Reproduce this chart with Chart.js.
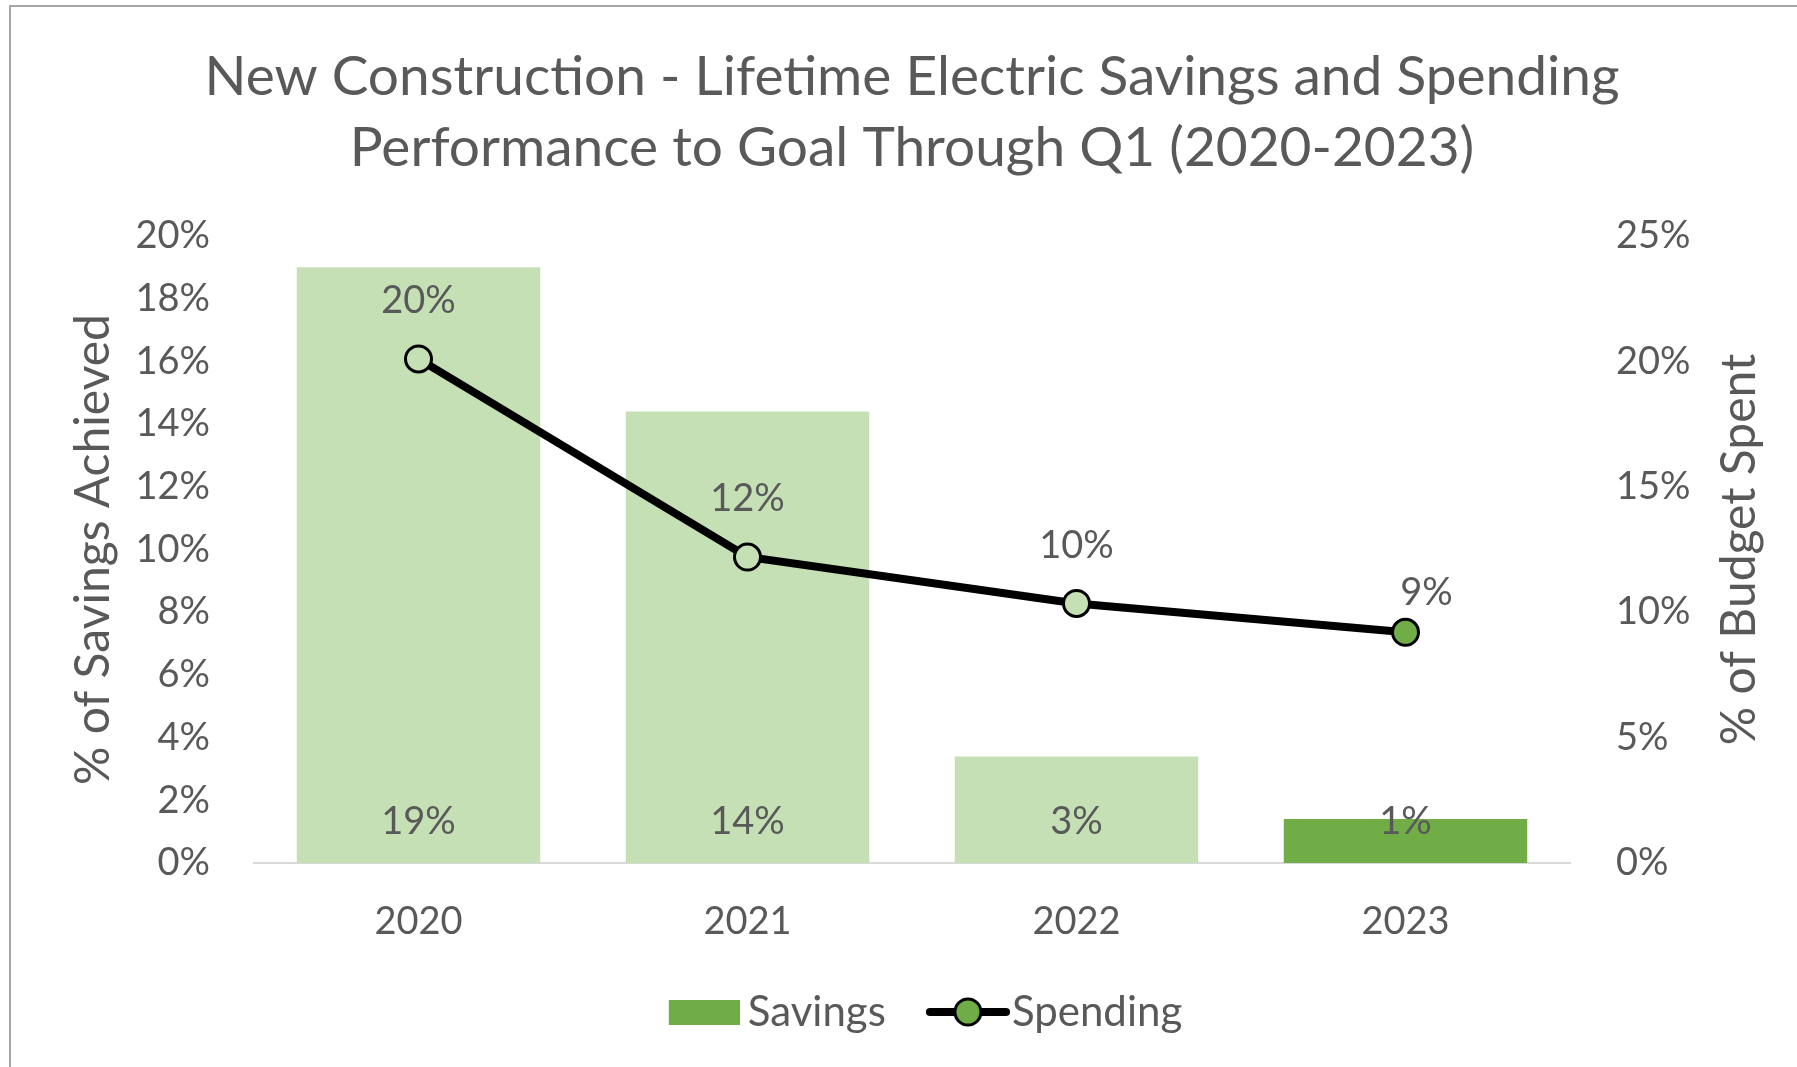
<!DOCTYPE html>
<html lang="en">
<head>
    <meta charset="UTF-8">
    <title>New Construction - Lifetime Electric Savings and Spending</title>
    <script src="https://cdn.jsdelivr.net/npm/chart.js"></script>
    <style>
        body {
            margin: 0;
            background: #ffffff;
        }
        .frame {
            position: absolute;
            left: 9px;
            top: 5px;
            width: 1800px;
            height: 1070px;
            border-left: 2px solid #a6a6a6;
            border-top: 2px solid #a6a6a6;
        }
        canvas {
            position: absolute;
            left: 0;
            top: 0;
        }
    </style>
</head>
<body>
    <div class="frame"></div>
    <canvas id="chart" width="1797" height="1067"></canvas>
    <script>
        // Data
        const years = ['2020', '2021', '2022', '2023'];
        const savings = [0.190, 0.144, 0.034, 0.014];
        const spending = [0.201, 0.122, 0.1035, 0.092];

        const titleLines = ['New Construction - Lifetime Electric Savings and Spending',
                            'Performance to Goal Through Q1 (2020-2023)'];

        const light = '#c5e0b4';
        const dark = '#70ad47';
        const textColor = '#595959';
        const fontFamily = 'Lato, "Open Sans", sans-serif';

        // label nudges for the spending labels (dx, dy) in px
        const spendLabelShift = [[0, -58], [0, -58], [0, -58], [21, -40]];

        function pct(v) {
            return Math.round(v * 100) + '%';
        }

        // legend icons (drawn off-centre inside a wider canvas so the gaps match)
        function makeSwatch() {
            const c = document.createElement('canvas');
            c.width = 111; c.height = 25;
            const g = c.getContext('2d');
            g.fillStyle = dark;
            g.fillRect(40, 0, 71, 25);
            return c;
        }
        function makeLineIcon() {
            const c = document.createElement('canvas');
            c.width = 123; c.height = 34;
            const g = c.getContext('2d');
            g.strokeStyle = '#000';
            g.lineWidth = 8;
            g.lineCap = 'round';
            g.beginPath(); g.moveTo(43, 17); g.lineTo(119, 17); g.stroke();
            g.beginPath(); g.arc(81, 17, 13, 0, Math.PI * 2);
            g.fillStyle = dark; g.fill();
            g.lineWidth = 3; g.stroke();
            return c;
        }
        const swatchIcon = makeSwatch();
        const lineIcon = makeLineIcon();

        const valueLabels = {
            id: 'valueLabels',
            afterDatasetsDraw(chart) {
                const ctx = chart.ctx;
                ctx.save();
                ctx.font = '38px ' + fontFamily;
                ctx.fillStyle = textColor;
                ctx.textAlign = 'center';
                ctx.textBaseline = 'middle';
                const barMeta = chart.getDatasetMeta(0);
                barMeta.data.forEach((el, i) => {
                    ctx.fillText(pct(savings[i]), el.x, el.base - 41);
                });
                const lineMeta = chart.getDatasetMeta(1);
                lineMeta.data.forEach((el, i) => {
                    const s = spendLabelShift[i];
                    ctx.fillText(pct(spending[i]), el.x + s[0], el.y + s[1]);
                });
                ctx.restore();
            },
            afterDraw(chart) {
                const ctx = chart.ctx;
                const area = chart.chartArea;
                const midX = (area.left + area.right) / 2;
                ctx.save();
                ctx.fillStyle = textColor;
                ctx.textAlign = 'center';
                ctx.textBaseline = 'middle';
                // title, centred over the plot area like Excel does
                ctx.font = '55px ' + fontFamily;
                titleLines.forEach((line, i) => ctx.fillText(line, midX, 77 + i * 71));
                // right axis title reads bottom-to-top, like the left one
                ctx.font = '48px ' + fontFamily;
                ctx.translate(chart.scales.y1.right - 57, (area.top + area.bottom) / 2);
                ctx.rotate(-Math.PI / 2);
                ctx.fillText('% of Budget Spent', 0, 0);
                ctx.restore();
            }
        };

        Chart.defaults.font.family = fontFamily;
        Chart.defaults.color = textColor;

        new Chart(document.getElementById('chart'), {
            data: {
                labels: years,
                datasets: [{
                    type: 'bar',
                    label: 'Savings',
                    data: savings,
                    yAxisID: 'y',
                    backgroundColor: [light, light, light, dark],
                    categoryPercentage: 1,
                    barPercentage: 0.74,
                    order: 1
                }, {
                    type: 'line',
                    label: 'Spending',
                    data: spending,
                    yAxisID: 'y1',
                    borderColor: '#000000',
                    borderWidth: 8,
                    pointRadius: 13,
                    pointBorderWidth: 3,
                    pointBorderColor: '#000000',
                    pointBackgroundColor: [light, light, light, dark],
                    tension: 0,
                    order: 0
                }]
            },
            options: {
                responsive: false,
                animation: false,
                layout: { padding: { left: 0, right: 0, top: 236, bottom: 24 } },
                plugins: {
                    tooltip: { enabled: false },
                    title: { display: false },
                    legend: {
                        position: 'bottom',
                        fullSize: false,
                        labels: {
                            usePointStyle: true,
                            pointStyleWidth: 85,
                            padding: 20,
                            color: textColor,
                            font: { size: 42 },
                            sort: (a, b) => a.datasetIndex - b.datasetIndex,
                            generateLabels(chart) {
                                return chart.data.datasets.map((ds, i) => ({
                                    text: ds.label,
                                    datasetIndex: i,
                                    pointStyle: i === 0 ? swatchIcon : lineIcon,
                                    fontColor: textColor,
                                    lineWidth: 0,
                                    hidden: false
                                }));
                            }
                        }
                    }
                },
                scales: {
                    x: {
                        grid: { display: false, drawTicks: false },
                        border: { display: true, color: '#d9d9d9', width: 2 },
                        ticks: { padding: 36, font: { size: 38 }, color: textColor },
                        afterFit(scale) { scale.height = 108; }
                    },
                    y: {
                        position: 'left',
                        min: 0,
                        max: 0.20,
                        grid: { display: false, drawTicks: false },
                        border: { display: false },
                        ticks: {
                            stepSize: 0.02,
                            padding: 44,
                            font: { size: 38 },
                            color: textColor,
                            callback: v => Math.round(v * 100) + '%'
                        },
                        title: {
                            display: true,
                            text: '% of Savings Achieved',
                            color: textColor,
                            font: { size: 48 },
                            padding: { top: 65, bottom: 0 }
                        },
                        afterFit(scale) { scale.width = 254; }
                    },
                    y1: {
                        position: 'right',
                        min: 0,
                        max: 0.25,
                        grid: { display: false, drawTicks: false },
                        border: { display: false },
                        ticks: {
                            stepSize: 0.05,
                            padding: 46,
                            font: { size: 38 },
                            color: textColor,
                            callback: v => Math.round(v * 100) + '%'
                        },
                        afterFit(scale) { scale.width = 227; }
                    }
                }
            },
            plugins: [valueLabels]
        });
    </script>
</body>
</html>
